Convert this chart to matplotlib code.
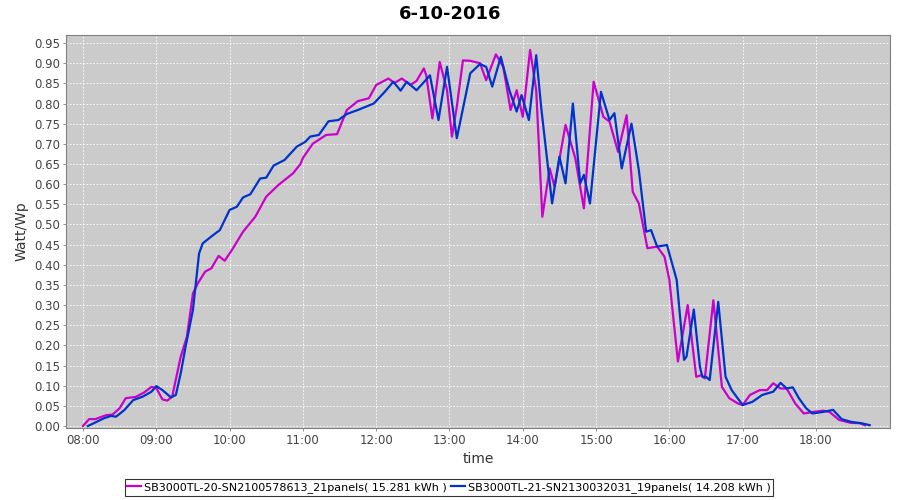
import numpy as np
import matplotlib
matplotlib.use("Agg")
import matplotlib.pyplot as plt
from matplotlib.ticker import FixedLocator, FuncFormatter

title = "6-10-2016"
name_a = "SB3000TL-20-SN2100578613_21panels( 15.281 kWh )"
name_b = "SB3000TL-21-SN2130032031_19panels( 14.208 kWh )"

# magenta inverter
times_a = ["08:00", "08:05", "08:10", "08:19", "08:24", "08:30", "08:35", "08:43", "08:50", "08:56",
           "09:00", "09:05", "09:09", "09:13", "09:20", "09:25", "09:30", "09:34", "09:40", "09:45",
           "09:51", "09:56", "10:02", "10:11", "10:21", "10:30", "10:40", "10:52", "10:58", "11:00",
           "11:08", "11:19", "11:28", "11:36", "11:45", "11:54", "12:00", "12:10", "12:15", "12:21",
           "12:28", "12:33", "12:39", "12:41", "12:46", "12:52", "12:58", "13:02", "13:06", "13:11",
           "13:17", "13:25", "13:30", "13:38", "13:44", "13:50", "13:55", "14:00", "14:06", "14:11",
           "14:16", "14:22", "14:26", "14:35", "14:43", "14:50", "14:58", "15:06", "15:11", "15:18",
           "15:25", "15:30", "15:35", "15:42", "15:50", "15:56", "16:00", "16:07", "16:15", "16:22",
           "16:26", "16:29", "16:36", "16:43", "16:49", "16:56", "17:00", "17:06", "17:14", "17:20",
           "17:25", "17:31", "17:36", "17:43", "17:50", "17:58", "18:06", "18:11", "18:19", "18:28",
           "18:36", "18:40"]
vals_a = [0.000, 0.017, 0.017, 0.027, 0.028, 0.044, 0.069, 0.072, 0.083, 0.097,
          0.094, 0.066, 0.063, 0.073, 0.172, 0.221, 0.329, 0.354, 0.383, 0.391,
          0.422, 0.410, 0.437, 0.482, 0.519, 0.569, 0.598, 0.627, 0.650, 0.665,
          0.700, 0.722, 0.724, 0.784, 0.806, 0.813, 0.846, 0.862, 0.851, 0.862,
          0.846, 0.856, 0.887, 0.870, 0.763, 0.903, 0.833, 0.718, 0.792, 0.907,
          0.906, 0.900, 0.858, 0.922, 0.891, 0.784, 0.833, 0.767, 0.933, 0.833,
          0.519, 0.639, 0.594, 0.747, 0.664, 0.540, 0.854, 0.767, 0.755, 0.680,
          0.771, 0.581, 0.552, 0.441, 0.445, 0.420, 0.362, 0.160, 0.300, 0.122,
          0.126, 0.118, 0.312, 0.097, 0.069, 0.056, 0.052, 0.077, 0.089, 0.089,
          0.106, 0.093, 0.093, 0.056, 0.031, 0.035, 0.038, 0.035, 0.015, 0.008,
          0.007, 0.002]

# blue inverter
times_b = ["08:04", "08:11", "08:17", "08:23", "08:27", "08:34", "08:41", "08:49", "08:56", "09:00",
           "09:05", "09:12", "09:16", "09:20", "09:24", "09:30", "09:35", "09:38", "09:45", "09:52",
           "10:00", "10:06", "10:11", "10:17", "10:25", "10:30", "10:36", "10:45", "10:55", "11:02",
           "11:06", "11:13", "11:21", "11:29", "11:36", "11:45", "11:58", "12:07", "12:14", "12:20",
           "12:25", "12:33", "12:40", "12:44", "12:51", "12:58", "13:06", "13:17", "13:25", "13:30",
           "13:35", "13:42", "13:49", "13:55", "13:59", "14:05", "14:11", "14:15", "14:24", "14:30",
           "14:35", "14:41", "14:47", "14:50", "14:55", "15:04", "15:11", "15:15", "15:21", "15:29",
           "15:35", "15:41", "15:45", "15:50", "15:58", "16:06", "16:12", "16:14", "16:20", "16:25",
           "16:27", "16:30", "16:33", "16:40", "16:46", "16:51", "17:00", "17:08", "17:16", "17:25",
           "17:31", "17:36", "17:41", "17:46", "17:52", "17:57", "18:06", "18:14", "18:21", "18:29",
           "18:37", "18:44"]
vals_b = [0.000, 0.010, 0.019, 0.025, 0.023, 0.040, 0.064, 0.073, 0.085, 0.099,
          0.089, 0.071, 0.077, 0.131, 0.197, 0.288, 0.428, 0.453, 0.470, 0.486,
          0.536, 0.544, 0.567, 0.575, 0.614, 0.616, 0.646, 0.660, 0.693, 0.705,
          0.718, 0.722, 0.756, 0.759, 0.774, 0.784, 0.800, 0.829, 0.854, 0.832,
          0.854, 0.833, 0.856, 0.870, 0.759, 0.891, 0.714, 0.875, 0.898, 0.891,
          0.842, 0.916, 0.833, 0.780, 0.821, 0.759, 0.920, 0.792, 0.552, 0.668,
          0.602, 0.800, 0.602, 0.623, 0.552, 0.829, 0.759, 0.776, 0.639, 0.750,
          0.635, 0.482, 0.486, 0.445, 0.449, 0.362, 0.164, 0.172, 0.289, 0.147,
          0.122, 0.122, 0.114, 0.308, 0.122, 0.089, 0.052, 0.060, 0.077, 0.085,
          0.107, 0.093, 0.096, 0.069, 0.044, 0.031, 0.035, 0.040, 0.017, 0.010,
          0.007, 0.002]

hour_ticks = list(range(8, 19))
y_ticks = [i * 0.05 for i in range(20)]


def to_hours(ts):
    return np.array([int(t[:2]) + int(t[3:]) / 60 for t in ts])


fig = plt.figure(figsize=(9, 5), dpi=100)
ax = fig.add_axes([66 / 900, 1 - 428 / 500, 824 / 900, 393 / 500])
ax.set_facecolor("#cbcbcb")

ax.plot(to_hours(times_a), vals_a, color="#cc00cc", lw=1.6, label=name_a)
ax.plot(to_hours(times_b), vals_b, color="#0033cc", lw=1.6, label=name_b)

ax.set_xlim(7.768, 19.01)
ax.set_ylim(-0.005, 0.97)
ax.xaxis.set_major_locator(FixedLocator(hour_ticks))
ax.xaxis.set_major_formatter(FuncFormatter(lambda v, p: "%02d:00" % round(v)))
ax.yaxis.set_major_locator(FixedLocator(y_ticks))
ax.yaxis.set_major_formatter(FuncFormatter(lambda v, p: "%.2f" % v))

ax.grid(True, color="white", ls=(0, (2, 2)), lw=0.6)
ax.set_axisbelow(True)
for s in ax.spines.values():
    s.set_color("#808080")
ax.tick_params(length=2, width=0.6, color="#808080", labelsize=8.5, labelcolor="#444444", pad=2)

ax.set_xlabel("time", fontsize=10, color="#333333", labelpad=4)
ax.set_ylabel("Watt/Wp", fontsize=10, color="#333333", labelpad=4)
fig.text(0.5, 1 - 14 / 500, title, ha="center", va="center", fontsize=13, fontweight="bold")

leg = fig.legend(loc="center", bbox_to_anchor=(449 / 900, 1 - 487.5 / 500), ncol=2,
                 fontsize=8, frameon=True, fancybox=False, handlelength=1.2,
                 handletextpad=0.3, columnspacing=0.4, borderpad=0.25, borderaxespad=0)
leg.get_frame().set_edgecolor("black")
leg.get_frame().set_linewidth(0.8)

fig.savefig("out.png", dpi=100)
